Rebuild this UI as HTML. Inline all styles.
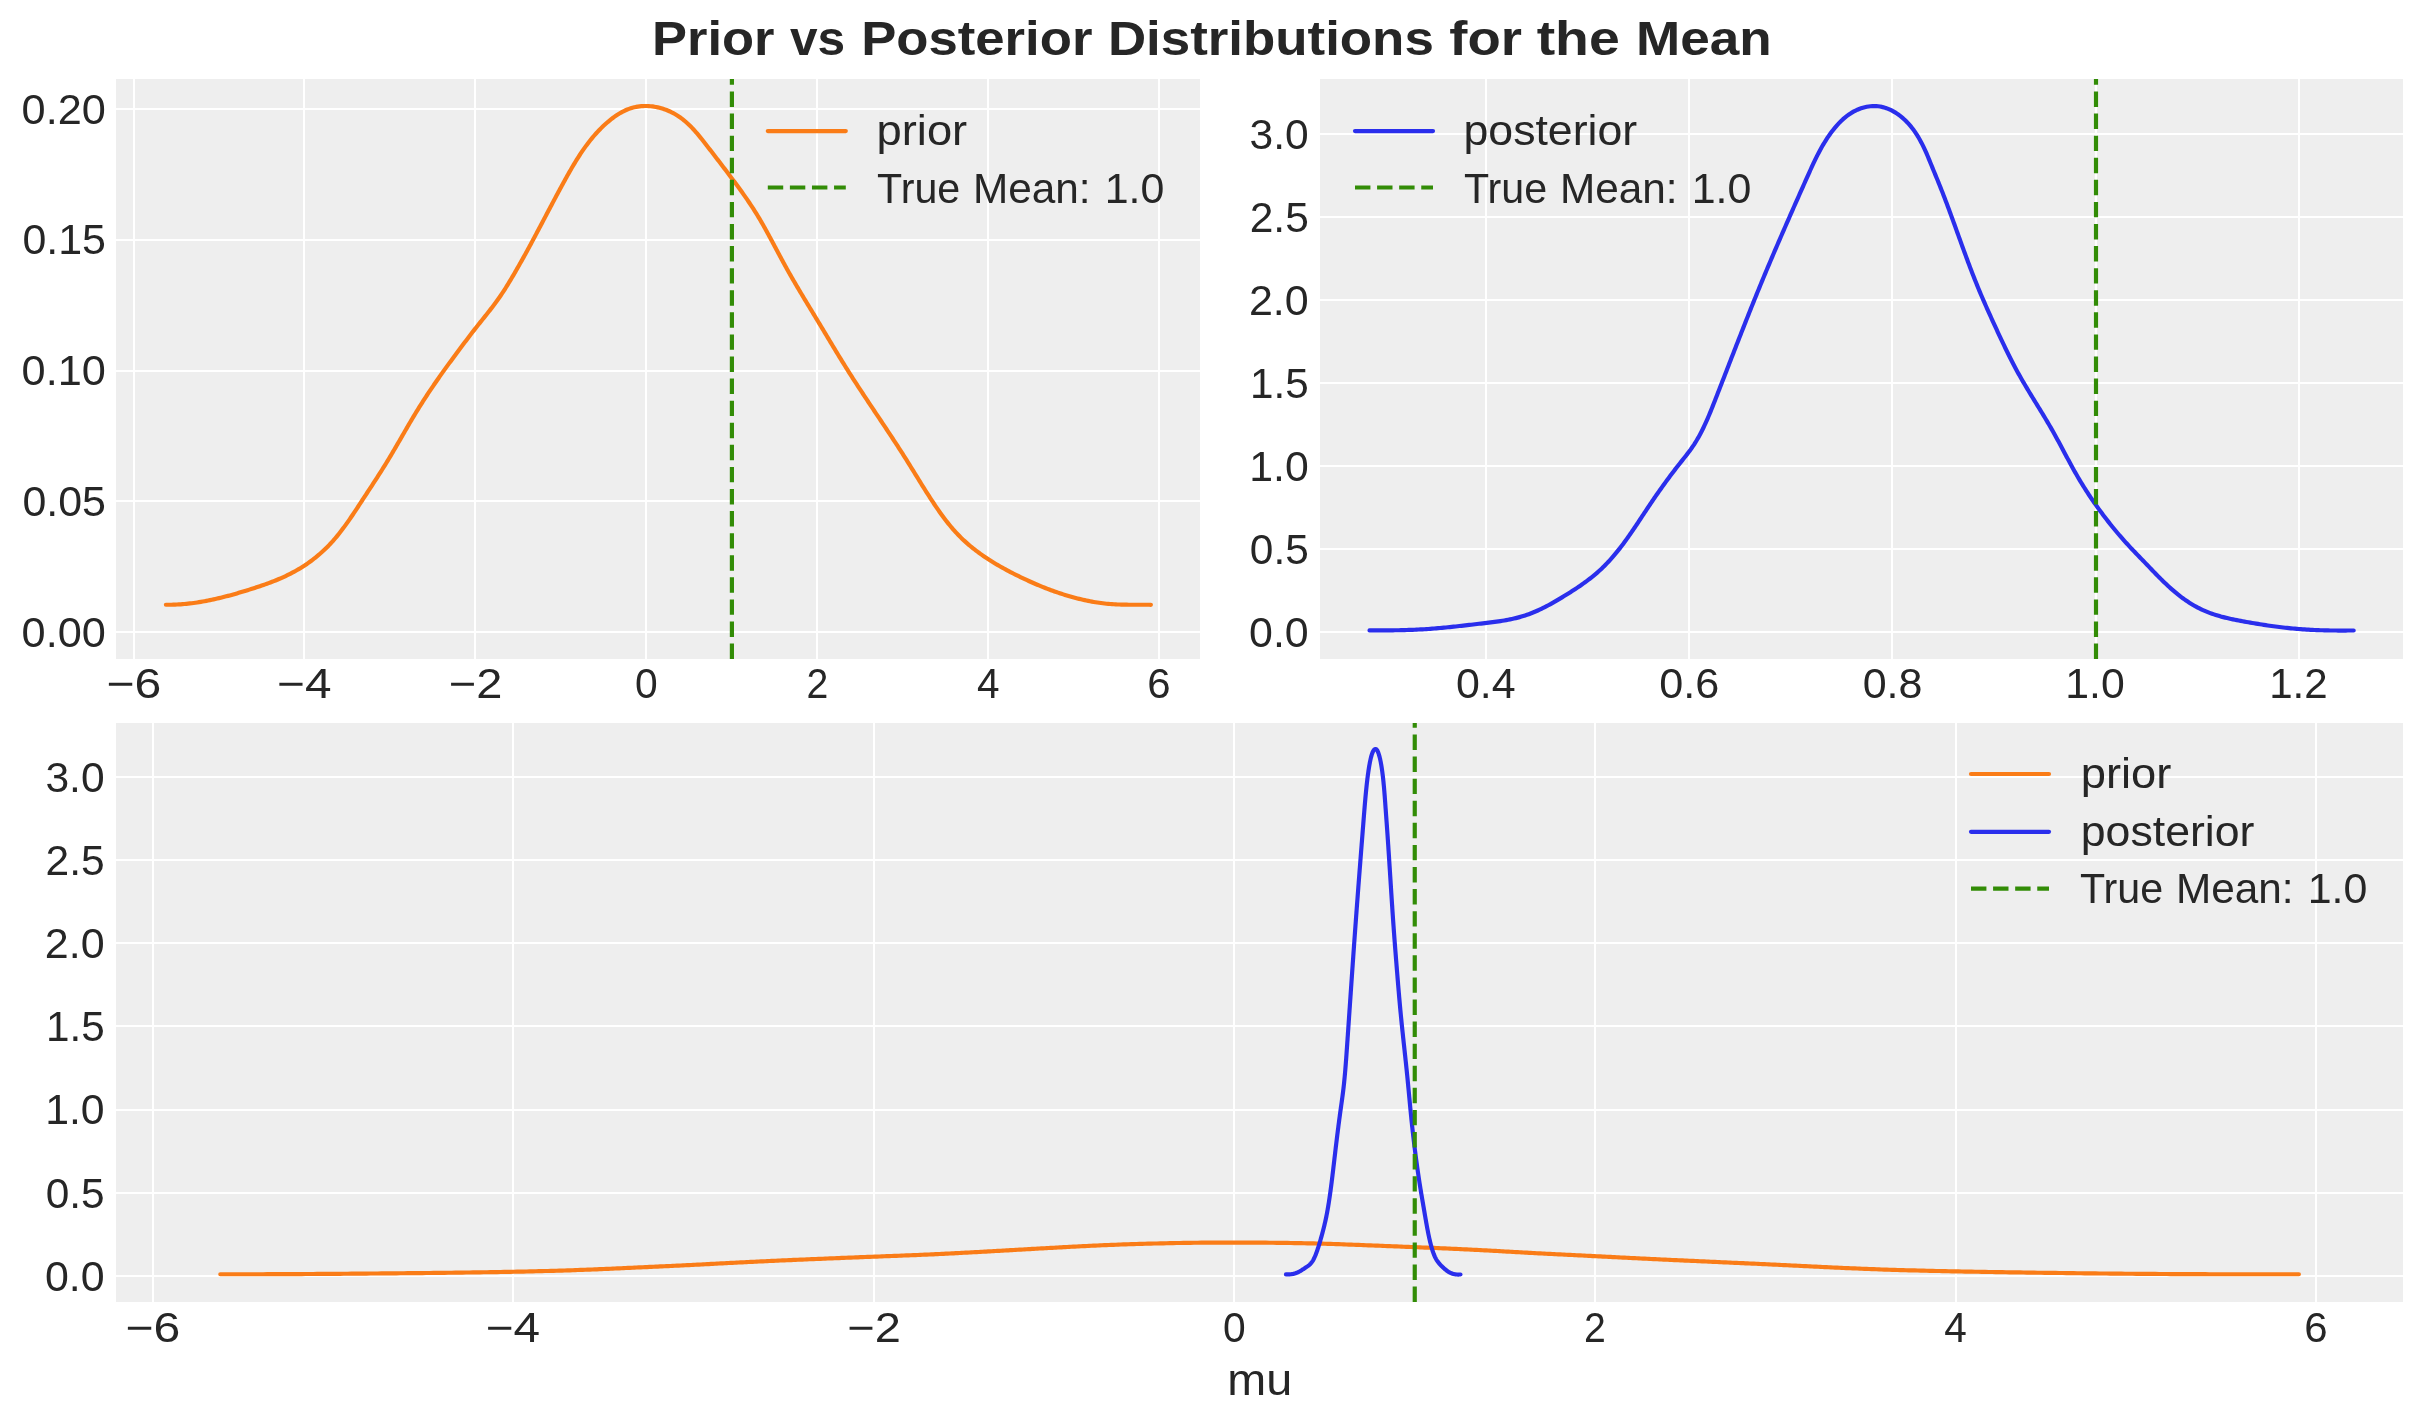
<!DOCTYPE html>
<html><head><meta charset="utf-8"><style>
html,body{margin:0;padding:0;background:#fff;}
body{width:2423px;height:1423px;overflow:hidden;}
svg{display:block;will-change:transform;}
text{font-family:"Liberation Sans",sans-serif;fill:#262626;}
</style></head><body>
<svg width="2423" height="1423" viewBox="0 0 2423 1423">
<rect x="0" y="0" width="2423" height="1423" fill="#ffffff"/>
<rect x="116" y="79" width="1084" height="580" fill="#eeeeee"/>
<rect x="1320" y="79" width="1083" height="580" fill="#eeeeee"/>
<rect x="116" y="723" width="2287" height="579" fill="#eeeeee"/>
<rect x="133" y="79" width="2" height="580" fill="#fff"/>
<rect x="303" y="79" width="2" height="580" fill="#fff"/>
<rect x="474" y="79" width="2" height="580" fill="#fff"/>
<rect x="645" y="79" width="2" height="580" fill="#fff"/>
<rect x="816" y="79" width="2" height="580" fill="#fff"/>
<rect x="987" y="79" width="2" height="580" fill="#fff"/>
<rect x="1158" y="79" width="2" height="580" fill="#fff"/>
<rect x="116" y="108" width="1084" height="2" fill="#fff"/>
<rect x="116" y="239" width="1084" height="2" fill="#fff"/>
<rect x="116" y="370" width="1084" height="2" fill="#fff"/>
<rect x="116" y="500" width="1084" height="2" fill="#fff"/>
<rect x="116" y="631" width="1084" height="2" fill="#fff"/>
<rect x="1485" y="79" width="2" height="580" fill="#fff"/>
<rect x="1688" y="79" width="2" height="580" fill="#fff"/>
<rect x="1891" y="79" width="2" height="580" fill="#fff"/>
<rect x="2095" y="79" width="2" height="580" fill="#fff"/>
<rect x="2298" y="79" width="2" height="580" fill="#fff"/>
<rect x="1320" y="133" width="1083" height="2" fill="#fff"/>
<rect x="1320" y="216" width="1083" height="2" fill="#fff"/>
<rect x="1320" y="299" width="1083" height="2" fill="#fff"/>
<rect x="1320" y="382" width="1083" height="2" fill="#fff"/>
<rect x="1320" y="465" width="1083" height="2" fill="#fff"/>
<rect x="1320" y="548" width="1083" height="2" fill="#fff"/>
<rect x="1320" y="631" width="1083" height="2" fill="#fff"/>
<rect x="152" y="723" width="2" height="579" fill="#fff"/>
<rect x="512" y="723" width="2" height="579" fill="#fff"/>
<rect x="873" y="723" width="2" height="579" fill="#fff"/>
<rect x="1233" y="723" width="2" height="579" fill="#fff"/>
<rect x="1594" y="723" width="2" height="579" fill="#fff"/>
<rect x="1955" y="723" width="2" height="579" fill="#fff"/>
<rect x="2315" y="723" width="2" height="579" fill="#fff"/>
<rect x="116" y="776" width="2287" height="2" fill="#fff"/>
<rect x="116" y="859" width="2287" height="2" fill="#fff"/>
<rect x="116" y="942" width="2287" height="2" fill="#fff"/>
<rect x="116" y="1025" width="2287" height="2" fill="#fff"/>
<rect x="116" y="1109" width="2287" height="2" fill="#fff"/>
<rect x="116" y="1192" width="2287" height="2" fill="#fff"/>
<rect x="116" y="1275" width="2287" height="2" fill="#fff"/>
<polyline points="165.88,604.74 167.75,604.75 169.61,604.75 171.46,604.72 173.32,604.67 175.17,604.61 177.02,604.52 178.87,604.42 180.72,604.30 182.56,604.16 184.40,604.00 186.24,603.83 188.08,603.63 189.91,603.43 191.75,603.20 193.58,602.96 195.41,602.71 197.23,602.44 199.06,602.15 200.88,601.85 202.70,601.54 204.52,601.21 206.34,600.87 208.15,600.52 209.97,600.15 211.78,599.77 213.59,599.38 215.39,598.98 217.20,598.57 219.00,598.15 220.80,597.71 222.60,597.27 224.40,596.81 226.19,596.35 227.99,595.88 229.78,595.40 231.57,594.91 233.35,594.41 235.14,593.90 236.92,593.39 238.70,592.87 240.48,592.34 242.26,591.81 244.04,591.27 245.81,590.73 247.59,590.18 249.36,589.62 251.13,589.06 252.90,588.50 254.66,587.93 256.42,587.35 258.18,586.77 259.94,586.18 261.69,585.58 263.44,584.98 265.19,584.36 266.93,583.74 268.66,583.10 270.39,582.45 272.12,581.79 273.84,581.12 275.55,580.44 277.26,579.74 278.96,579.02 280.65,578.30 282.34,577.55 284.01,576.79 285.68,576.02 287.35,575.22 289.00,574.41 290.64,573.58 292.28,572.72 293.91,571.85 295.52,570.96 297.13,570.05 298.72,569.12 300.31,568.16 301.88,567.19 303.44,566.20 304.99,565.18 306.53,564.15 308.05,563.10 309.56,562.03 311.06,560.94 312.54,559.83 314.01,558.70 315.46,557.55 316.90,556.39 318.33,555.20 319.73,554.00 321.12,552.78 322.50,551.54 323.86,550.29 325.19,549.02 326.52,547.73 327.82,546.42 329.11,545.10 330.37,543.76 331.62,542.40 332.86,541.03 334.07,539.65 335.28,538.25 336.46,536.84 337.64,535.41 338.80,533.98 339.94,532.53 341.08,531.07 342.20,529.60 343.31,528.12 344.41,526.63 345.50,525.14 346.58,523.63 347.66,522.12 348.72,520.60 349.78,519.08 350.83,517.54 351.87,516.01 352.91,514.47 353.95,512.93 354.98,511.38 356.00,509.83 357.02,508.28 358.04,506.73 359.06,505.17 360.08,503.62 361.09,502.06 362.11,500.51 363.13,498.96 364.14,497.41 365.16,495.86 366.17,494.31 367.19,492.77 368.20,491.22 369.22,489.67 370.23,488.12 371.24,486.58 372.25,485.03 373.26,483.48 374.26,481.93 375.27,480.38 376.27,478.83 377.27,477.28 378.27,475.73 379.26,474.17 380.25,472.62 381.24,471.06 382.23,469.50 383.21,467.93 384.19,466.37 385.16,464.80 386.13,463.23 387.10,461.65 388.06,460.08 389.01,458.50 389.97,456.91 390.92,455.33 391.86,453.74 392.80,452.14 393.74,450.55 394.68,448.95 395.61,447.35 396.54,445.75 397.47,444.15 398.40,442.55 399.33,440.95 400.26,439.34 401.18,437.74 402.11,436.13 403.04,434.53 403.96,432.93 404.89,431.32 405.82,429.72 406.75,428.12 407.68,426.51 408.62,424.91 409.55,423.32 410.49,421.72 411.43,420.12 412.38,418.53 413.33,416.94 414.28,415.35 415.24,413.77 416.20,412.19 417.16,410.61 418.14,409.04 419.11,407.46 420.09,405.90 421.08,404.33 422.07,402.77 423.07,401.21 424.07,399.66 425.07,398.11 426.08,396.56 427.09,395.01 428.11,393.47 429.14,391.93 430.16,390.39 431.19,388.86 432.23,387.33 433.27,385.80 434.31,384.27 435.36,382.75 436.41,381.22 437.46,379.71 438.52,378.19 439.58,376.67 440.65,375.16 441.72,373.65 442.79,372.15 443.86,370.64 444.94,369.14 446.03,367.64 447.11,366.14 448.20,364.64 449.29,363.14 450.38,361.65 451.48,360.16 452.57,358.67 453.67,357.18 454.78,355.69 455.88,354.20 456.98,352.72 458.09,351.23 459.20,349.75 460.30,348.27 461.41,346.79 462.52,345.31 463.63,343.83 464.74,342.36 465.85,340.88 466.97,339.41 468.08,337.93 469.20,336.46 470.32,335.00 471.45,333.53 472.58,332.07 473.71,330.61 474.85,329.16 475.99,327.71 477.14,326.26 478.29,324.81 479.44,323.37 480.60,321.93 481.75,320.48 482.90,319.04 484.06,317.59 485.21,316.15 486.36,314.70 487.50,313.25 488.64,311.80 489.78,310.35 490.91,308.89 492.04,307.42 493.15,305.95 494.26,304.48 495.37,303.00 496.46,301.51 497.54,300.02 498.62,298.51 499.68,297.00 500.73,295.48 501.76,293.95 502.79,292.42 503.80,290.87 504.80,289.31 505.79,287.75 506.77,286.18 507.74,284.60 508.70,283.02 509.66,281.44 510.61,279.85 511.56,278.26 512.50,276.67 513.44,275.07 514.37,273.47 515.30,271.87 516.22,270.27 517.15,268.67 518.07,267.06 518.98,265.45 519.89,263.84 520.80,262.23 521.71,260.62 522.61,259.00 523.51,257.38 524.40,255.77 525.30,254.15 526.19,252.52 527.08,250.90 527.96,249.28 528.85,247.65 529.73,246.03 530.61,244.40 531.49,242.77 532.36,241.14 533.24,239.51 534.11,237.88 534.98,236.24 535.85,234.61 536.72,232.98 537.59,231.34 538.45,229.71 539.32,228.07 540.19,226.44 541.05,224.80 541.91,223.16 542.78,221.53 543.64,219.89 544.50,218.25 545.37,216.62 546.23,214.98 547.09,213.34 547.96,211.70 548.82,210.07 549.69,208.43 550.55,206.79 551.42,205.16 552.28,203.52 553.15,201.89 554.02,200.25 554.89,198.62 555.76,196.99 556.64,195.36 557.51,193.72 558.39,192.09 559.26,190.46 560.14,188.84 561.03,187.21 561.91,185.58 562.80,183.96 563.69,182.33 564.58,180.71 565.47,179.09 566.37,177.47 567.27,175.85 568.17,174.24 569.08,172.63 570.00,171.02 570.92,169.42 571.85,167.82 572.78,166.22 573.72,164.64 574.68,163.05 575.63,161.47 576.60,159.90 577.58,158.34 578.57,156.78 579.57,155.24 580.58,153.70 581.61,152.16 582.64,150.64 583.69,149.13 584.76,147.63 585.83,146.14 586.93,144.65 588.03,143.18 589.16,141.73 590.30,140.28 591.46,138.85 592.63,137.43 593.83,136.02 595.04,134.63 596.27,133.25 597.53,131.89 598.80,130.54 600.09,129.21 601.41,127.89 602.75,126.59 604.11,125.31 605.49,124.04 606.90,122.79 608.33,121.56 609.79,120.36 611.27,119.17 612.78,118.02 614.30,116.90 615.85,115.81 617.42,114.76 619.02,113.76 620.63,112.81 622.27,111.90 623.92,111.05 625.60,110.26 627.29,109.53 629.00,108.87 630.73,108.28 632.48,107.75 634.25,107.30 636.02,106.92 637.81,106.60 639.61,106.36 641.42,106.18 643.23,106.06 645.05,106.01 646.87,106.02 648.69,106.09 650.51,106.23 652.32,106.42 654.14,106.68 655.94,106.99 657.74,107.36 659.53,107.79 661.31,108.27 663.07,108.81 664.82,109.40 666.55,110.05 668.26,110.74 669.95,111.49 671.61,112.29 673.26,113.13 674.87,114.02 676.46,114.96 678.02,115.95 679.55,116.98 681.05,118.05 682.51,119.16 683.95,120.31 685.37,121.50 686.75,122.72 688.12,123.97 689.46,125.26 690.78,126.57 692.08,127.91 693.36,129.27 694.62,130.65 695.86,132.05 697.09,133.47 698.30,134.91 699.51,136.35 700.70,137.81 701.87,139.28 703.04,140.75 704.21,142.23 705.36,143.71 706.51,145.20 707.66,146.67 708.80,148.15 709.93,149.62 711.07,151.09 712.20,152.56 713.33,154.03 714.46,155.49 715.58,156.95 716.71,158.41 717.83,159.87 718.94,161.33 720.06,162.79 721.17,164.25 722.29,165.71 723.40,167.16 724.51,168.62 725.62,170.08 726.72,171.55 727.83,173.01 728.93,174.48 730.04,175.95 731.14,177.42 732.25,178.89 733.35,180.37 734.45,181.85 735.55,183.34 736.65,184.83 737.74,186.32 738.84,187.82 739.93,189.32 741.01,190.82 742.09,192.33 743.17,193.84 744.24,195.36 745.31,196.88 746.37,198.40 747.43,199.93 748.47,201.47 749.51,203.01 750.55,204.55 751.57,206.10 752.59,207.65 753.59,209.21 754.59,210.78 755.58,212.34 756.56,213.92 757.52,215.50 758.48,217.08 759.43,218.67 760.37,220.26 761.31,221.86 762.23,223.46 763.15,225.07 764.06,226.68 764.97,228.29 765.87,229.90 766.76,231.52 767.65,233.14 768.54,234.76 769.42,236.38 770.30,238.01 771.18,239.64 772.05,241.27 772.92,242.90 773.79,244.53 774.66,246.16 775.52,247.79 776.39,249.42 777.26,251.05 778.12,252.68 778.99,254.32 779.86,255.95 780.74,257.58 781.61,259.21 782.49,260.83 783.37,262.46 784.25,264.08 785.14,265.70 786.03,267.32 786.93,268.94 787.83,270.55 788.74,272.17 789.65,273.78 790.57,275.38 791.49,276.99 792.41,278.59 793.34,280.20 794.27,281.80 795.20,283.39 796.14,284.99 797.08,286.59 798.02,288.18 798.96,289.77 799.91,291.37 800.86,292.96 801.81,294.54 802.76,296.13 803.72,297.72 804.67,299.31 805.63,300.89 806.59,302.48 807.55,304.06 808.51,305.65 809.47,307.23 810.43,308.81 811.39,310.40 812.35,311.98 813.31,313.56 814.26,315.15 815.22,316.73 816.18,318.31 817.14,319.90 818.09,321.48 819.05,323.07 820.00,324.65 820.95,326.24 821.90,327.82 822.86,329.41 823.81,330.99 824.76,332.58 825.71,334.16 826.66,335.75 827.61,337.33 828.56,338.92 829.51,340.50 830.46,342.09 831.42,343.67 832.37,345.25 833.32,346.83 834.28,348.42 835.23,350.00 836.19,351.58 837.15,353.16 838.11,354.73 839.08,356.31 840.04,357.89 841.01,359.46 841.98,361.04 842.95,362.61 843.92,364.18 844.90,365.75 845.88,367.32 846.86,368.89 847.84,370.45 848.83,372.02 849.82,373.58 850.81,375.14 851.81,376.70 852.81,378.26 853.81,379.81 854.81,381.37 855.82,382.92 856.83,384.48 857.84,386.03 858.85,387.58 859.87,389.13 860.89,390.68 861.90,392.23 862.92,393.77 863.95,395.32 864.97,396.86 865.99,398.41 867.02,399.95 868.04,401.50 869.07,403.04 870.10,404.58 871.13,406.12 872.15,407.67 873.18,409.21 874.21,410.75 875.24,412.29 876.27,413.83 877.30,415.37 878.33,416.91 879.36,418.45 880.39,419.99 881.42,421.53 882.45,423.07 883.48,424.61 884.50,426.15 885.53,427.69 886.56,429.24 887.58,430.78 888.60,432.32 889.62,433.86 890.64,435.41 891.66,436.95 892.68,438.50 893.69,440.04 894.71,441.59 895.72,443.14 896.72,444.68 897.73,446.23 898.74,447.78 899.74,449.33 900.74,450.89 901.73,452.44 902.73,453.99 903.72,455.55 904.70,457.11 905.69,458.67 906.67,460.23 907.65,461.79 908.62,463.35 909.59,464.92 910.56,466.48 911.53,468.05 912.50,469.61 913.47,471.18 914.43,472.75 915.40,474.32 916.36,475.88 917.33,477.45 918.30,479.02 919.27,480.59 920.24,482.16 921.21,483.73 922.18,485.29 923.16,486.86 924.14,488.43 925.12,489.99 926.11,491.56 927.10,493.12 928.10,494.68 929.10,496.24 930.10,497.80 931.11,499.36 932.13,500.91 933.15,502.47 934.18,504.02 935.22,505.56 936.27,507.11 937.32,508.65 938.38,510.18 939.45,511.71 940.53,513.23 941.62,514.74 942.72,516.24 943.83,517.74 944.95,519.22 946.08,520.70 947.23,522.16 948.38,523.62 949.55,525.06 950.73,526.48 951.93,527.90 953.14,529.30 954.36,530.68 955.60,532.05 956.86,533.40 958.13,534.74 959.41,536.06 960.71,537.36 962.03,538.64 963.36,539.90 964.71,541.15 966.07,542.39 967.44,543.60 968.83,544.80 970.23,545.99 971.65,547.15 973.08,548.31 974.52,549.45 975.97,550.57 977.44,551.68 978.92,552.77 980.40,553.86 981.90,554.92 983.41,555.98 984.93,557.02 986.47,558.04 988.01,559.06 989.56,560.06 991.11,561.05 992.68,562.03 994.26,562.99 995.84,563.95 997.44,564.89 999.04,565.82 1000.64,566.74 1002.26,567.65 1003.88,568.55 1005.51,569.45 1007.14,570.33 1008.78,571.20 1010.42,572.06 1012.07,572.91 1013.73,573.76 1015.39,574.59 1017.05,575.42 1018.72,576.24 1020.39,577.05 1022.06,577.86 1023.74,578.65 1025.42,579.44 1027.10,580.22 1028.79,580.99 1030.48,581.76 1032.17,582.51 1033.87,583.26 1035.57,583.99 1037.27,584.72 1038.98,585.44 1040.69,586.15 1042.40,586.84 1044.12,587.53 1045.84,588.21 1047.57,588.88 1049.30,589.53 1051.03,590.18 1052.76,590.82 1054.50,591.44 1056.25,592.05 1057.99,592.65 1059.74,593.24 1061.50,593.82 1063.25,594.38 1065.01,594.94 1066.78,595.48 1068.55,596.01 1070.32,596.52 1072.10,597.02 1073.88,597.51 1075.66,597.98 1077.45,598.45 1079.24,598.89 1081.04,599.33 1082.83,599.75 1084.64,600.15 1086.44,600.54 1088.25,600.91 1090.07,601.27 1091.88,601.61 1093.70,601.94 1095.53,602.24 1097.35,602.53 1099.18,602.80 1101.01,603.06 1102.84,603.29 1104.68,603.51 1106.52,603.71 1108.36,603.88 1110.20,604.04 1112.04,604.18 1113.89,604.29 1115.74,604.39 1117.58,604.48 1119.43,604.54 1121.29,604.60 1123.14,604.64 1124.99,604.68 1126.84,604.70 1128.70,604.71 1130.55,604.72 1132.40,604.73 1134.26,604.73 1136.11,604.73 1137.96,604.72 1139.81,604.72 1141.66,604.72 1143.51,604.73 1145.36,604.74 1147.21,604.75 1149.06,604.77 1150.90,604.81" fill="none" stroke="#fa7c17" stroke-width="4.17" stroke-linecap="round" stroke-linejoin="round"/>
<polyline points="1369.50,630.40 1371.46,630.41 1373.42,630.41 1375.38,630.41 1377.34,630.41 1379.30,630.41 1381.26,630.41 1383.22,630.40 1385.18,630.39 1387.14,630.38 1389.10,630.36 1391.06,630.34 1393.02,630.31 1394.98,630.28 1396.94,630.25 1398.91,630.21 1400.87,630.17 1402.83,630.12 1404.79,630.07 1406.75,630.01 1408.71,629.95 1410.67,629.88 1412.63,629.80 1414.58,629.72 1416.54,629.64 1418.50,629.54 1420.46,629.44 1422.41,629.33 1424.37,629.21 1426.32,629.09 1428.28,628.96 1430.23,628.82 1432.18,628.68 1434.13,628.52 1436.08,628.36 1438.03,628.20 1439.98,628.03 1441.93,627.85 1443.88,627.67 1445.83,627.48 1447.78,627.28 1449.73,627.09 1451.68,626.89 1453.62,626.68 1455.57,626.47 1457.52,626.26 1459.47,626.04 1461.42,625.83 1463.37,625.61 1465.32,625.38 1467.27,625.16 1469.22,624.94 1471.17,624.71 1473.12,624.48 1475.07,624.26 1477.02,624.03 1478.98,623.80 1480.93,623.57 1482.89,623.35 1484.84,623.12 1486.80,622.89 1488.75,622.65 1490.71,622.41 1492.66,622.16 1494.61,621.91 1496.56,621.64 1498.50,621.36 1500.44,621.07 1502.38,620.76 1504.31,620.44 1506.23,620.10 1508.16,619.75 1510.07,619.37 1511.98,618.97 1513.88,618.55 1515.78,618.10 1517.66,617.63 1519.54,617.13 1521.41,616.60 1523.27,616.04 1525.12,615.45 1526.96,614.83 1528.79,614.18 1530.61,613.49 1532.43,612.78 1534.23,612.04 1536.02,611.27 1537.81,610.48 1539.58,609.66 1541.35,608.82 1543.11,607.96 1544.87,607.07 1546.61,606.17 1548.35,605.25 1550.08,604.31 1551.81,603.36 1553.53,602.39 1555.24,601.41 1556.95,600.41 1558.65,599.41 1560.35,598.40 1562.04,597.37 1563.73,596.34 1565.41,595.31 1567.09,594.26 1568.76,593.22 1570.43,592.16 1572.09,591.10 1573.74,590.03 1575.39,588.95 1577.03,587.87 1578.66,586.77 1580.28,585.66 1581.89,584.54 1583.48,583.41 1585.07,582.26 1586.65,581.11 1588.21,579.94 1589.76,578.75 1591.29,577.55 1592.81,576.33 1594.32,575.10 1595.81,573.85 1597.28,572.58 1598.73,571.29 1600.17,569.99 1601.59,568.66 1602.99,567.31 1604.37,565.95 1605.74,564.57 1607.09,563.17 1608.42,561.75 1609.74,560.32 1611.04,558.87 1612.33,557.41 1613.60,555.93 1614.87,554.43 1616.11,552.93 1617.35,551.41 1618.57,549.88 1619.78,548.34 1620.99,546.78 1622.18,545.22 1623.36,543.65 1624.53,542.06 1625.69,540.47 1626.84,538.87 1627.99,537.27 1629.13,535.65 1630.26,534.03 1631.38,532.41 1632.50,530.78 1633.61,529.14 1634.72,527.50 1635.82,525.86 1636.92,524.22 1638.02,522.57 1639.11,520.92 1640.20,519.27 1641.29,517.62 1642.38,515.97 1643.47,514.33 1644.55,512.68 1645.64,511.04 1646.73,509.39 1647.82,507.76 1648.91,506.12 1650.00,504.49 1651.09,502.87 1652.19,501.25 1653.29,499.63 1654.39,498.02 1655.50,496.41 1656.61,494.81 1657.72,493.21 1658.84,491.62 1659.96,490.03 1661.08,488.44 1662.21,486.86 1663.35,485.28 1664.49,483.70 1665.63,482.13 1666.78,480.56 1667.93,478.99 1669.09,477.42 1670.26,475.86 1671.43,474.30 1672.60,472.74 1673.79,471.19 1674.98,469.63 1676.17,468.08 1677.38,466.53 1678.58,464.98 1679.80,463.44 1681.03,461.89 1682.26,460.35 1683.49,458.80 1684.72,457.26 1685.95,455.70 1687.17,454.14 1688.37,452.58 1689.56,451.00 1690.73,449.41 1691.86,447.80 1692.97,446.18 1694.06,444.55 1695.11,442.90 1696.14,441.23 1697.14,439.55 1698.12,437.86 1699.08,436.16 1700.01,434.45 1700.92,432.72 1701.82,430.98 1702.69,429.24 1703.55,427.48 1704.39,425.72 1705.21,423.94 1706.02,422.16 1706.82,420.37 1707.60,418.58 1708.37,416.78 1709.13,414.97 1709.89,413.16 1710.63,411.35 1711.37,409.53 1712.10,407.71 1712.82,405.88 1713.55,404.06 1714.26,402.23 1714.98,400.40 1715.70,398.58 1716.41,396.75 1717.12,394.92 1717.84,393.09 1718.55,391.26 1719.26,389.44 1719.98,387.61 1720.69,385.78 1721.40,383.95 1722.11,382.12 1722.82,380.30 1723.53,378.47 1724.24,376.64 1724.95,374.81 1725.66,372.99 1726.37,371.16 1727.08,369.33 1727.79,367.51 1728.49,365.68 1729.20,363.85 1729.91,362.03 1730.62,360.20 1731.33,358.37 1732.04,356.55 1732.75,354.72 1733.46,352.89 1734.17,351.07 1734.88,349.24 1735.59,347.42 1736.30,345.59 1737.01,343.77 1737.73,341.94 1738.44,340.12 1739.15,338.30 1739.86,336.47 1740.58,334.65 1741.29,332.82 1742.01,331.00 1742.72,329.18 1743.44,327.36 1744.16,325.53 1744.88,323.71 1745.60,321.89 1746.32,320.07 1747.04,318.25 1747.76,316.43 1748.48,314.61 1749.21,312.79 1749.93,310.97 1750.66,309.15 1751.39,307.33 1752.12,305.51 1752.84,303.70 1753.58,301.88 1754.31,300.06 1755.04,298.24 1755.78,296.43 1756.51,294.61 1757.25,292.80 1757.99,290.98 1758.73,289.17 1759.48,287.35 1760.22,285.54 1760.97,283.73 1761.71,281.91 1762.46,280.10 1763.21,278.29 1763.97,276.48 1764.72,274.67 1765.47,272.86 1766.23,271.05 1766.99,269.24 1767.75,267.43 1768.51,265.62 1769.27,263.82 1770.04,262.01 1770.80,260.20 1771.57,258.40 1772.34,256.59 1773.11,254.79 1773.88,252.98 1774.65,251.18 1775.42,249.37 1776.19,247.57 1776.97,245.77 1777.75,243.97 1778.52,242.17 1779.30,240.36 1780.08,238.56 1780.86,236.76 1781.64,234.96 1782.42,233.17 1783.21,231.37 1783.99,229.57 1784.77,227.77 1785.56,225.97 1786.35,224.18 1787.13,222.38 1787.92,220.59 1788.71,218.79 1789.50,217.00 1790.29,215.20 1791.08,213.41 1791.87,211.62 1792.66,209.82 1793.45,208.03 1794.24,206.24 1795.04,204.45 1795.83,202.66 1796.62,200.87 1797.42,199.08 1798.21,197.29 1799.01,195.50 1799.80,193.72 1800.60,191.93 1801.39,190.14 1802.19,188.36 1802.99,186.57 1803.78,184.78 1804.58,183.00 1805.37,181.22 1806.17,179.43 1806.97,177.65 1807.76,175.87 1808.56,174.08 1809.36,172.30 1810.16,170.52 1810.97,168.75 1811.78,166.97 1812.60,165.20 1813.42,163.44 1814.26,161.67 1815.10,159.92 1815.96,158.16 1816.83,156.42 1817.71,154.68 1818.60,152.94 1819.51,151.22 1820.44,149.50 1821.39,147.79 1822.36,146.09 1823.34,144.39 1824.35,142.71 1825.39,141.04 1826.44,139.38 1827.52,137.72 1828.63,136.09 1829.76,134.46 1830.93,132.85 1832.12,131.25 1833.35,129.67 1834.60,128.11 1835.89,126.58 1837.20,125.08 1838.55,123.61 1839.93,122.17 1841.35,120.78 1842.79,119.42 1844.27,118.11 1845.79,116.86 1847.34,115.65 1848.93,114.50 1850.55,113.41 1852.21,112.38 1853.90,111.42 1855.64,110.53 1857.41,109.71 1859.21,108.97 1861.04,108.30 1862.89,107.72 1864.77,107.22 1866.66,106.80 1868.57,106.48 1870.49,106.24 1872.41,106.10 1874.33,106.06 1876.26,106.11 1878.17,106.27 1880.08,106.53 1881.97,106.90 1883.85,107.37 1885.71,107.94 1887.54,108.61 1889.35,109.36 1891.13,110.20 1892.88,111.11 1894.59,112.09 1896.26,113.13 1897.90,114.24 1899.49,115.40 1901.05,116.62 1902.56,117.89 1904.04,119.21 1905.47,120.57 1906.87,121.97 1908.23,123.42 1909.55,124.90 1910.83,126.42 1912.07,127.97 1913.27,129.55 1914.43,131.15 1915.56,132.78 1916.64,134.43 1917.69,136.09 1918.70,137.77 1919.68,139.47 1920.62,141.18 1921.54,142.90 1922.42,144.64 1923.29,146.38 1924.12,148.14 1924.94,149.91 1925.74,151.68 1926.53,153.46 1927.30,155.25 1928.06,157.05 1928.81,158.85 1929.55,160.65 1930.29,162.46 1931.03,164.27 1931.76,166.08 1932.50,167.89 1933.25,169.70 1933.99,171.51 1934.74,173.32 1935.48,175.14 1936.23,176.95 1936.98,178.76 1937.72,180.58 1938.46,182.39 1939.20,184.21 1939.93,186.03 1940.66,187.85 1941.38,189.68 1942.10,191.50 1942.82,193.33 1943.53,195.16 1944.23,196.98 1944.93,198.82 1945.63,200.65 1946.33,202.48 1947.02,204.32 1947.71,206.15 1948.39,207.99 1949.07,209.83 1949.75,211.67 1950.43,213.51 1951.11,215.35 1951.78,217.19 1952.45,219.03 1953.12,220.88 1953.79,222.72 1954.46,224.56 1955.13,226.41 1955.79,228.25 1956.46,230.10 1957.12,231.94 1957.78,233.79 1958.45,235.63 1959.11,237.48 1959.78,239.32 1960.44,241.16 1961.11,243.01 1961.78,244.85 1962.44,246.69 1963.11,248.54 1963.78,250.38 1964.46,252.22 1965.13,254.06 1965.81,255.90 1966.48,257.74 1967.16,259.57 1967.85,261.41 1968.53,263.24 1969.22,265.08 1969.92,266.91 1970.61,268.74 1971.31,270.57 1972.01,272.40 1972.72,274.23 1973.43,276.05 1974.15,277.87 1974.87,279.69 1975.59,281.51 1976.32,283.33 1977.06,285.15 1977.80,286.96 1978.54,288.77 1979.29,290.58 1980.05,292.38 1980.81,294.19 1981.58,295.99 1982.35,297.79 1983.13,299.59 1983.91,301.39 1984.69,303.18 1985.48,304.98 1986.27,306.77 1987.06,308.56 1987.86,310.35 1988.66,312.14 1989.47,313.92 1990.28,315.71 1991.09,317.50 1991.90,319.28 1992.71,321.07 1993.53,322.85 1994.35,324.63 1995.17,326.41 1995.99,328.19 1996.81,329.98 1997.63,331.76 1998.46,333.54 1999.29,335.32 2000.12,337.09 2000.95,338.87 2001.79,340.65 2002.62,342.42 2003.47,344.19 2004.31,345.96 2005.16,347.73 2006.02,349.50 2006.88,351.26 2007.74,353.02 2008.61,354.78 2009.49,356.53 2010.37,358.28 2011.25,360.03 2012.15,361.78 2013.05,363.52 2013.96,365.25 2014.87,366.98 2015.79,368.71 2016.73,370.44 2017.66,372.15 2018.61,373.87 2019.57,375.58 2020.53,377.28 2021.50,378.98 2022.48,380.68 2023.46,382.37 2024.45,384.06 2025.45,385.75 2026.45,387.43 2027.46,389.11 2028.47,390.79 2029.48,392.47 2030.50,394.14 2031.52,395.81 2032.54,397.49 2033.56,399.16 2034.59,400.83 2035.61,402.50 2036.64,404.17 2037.66,405.83 2038.69,407.50 2039.71,409.17 2040.74,410.85 2041.76,412.52 2042.77,414.19 2043.79,415.87 2044.80,417.54 2045.81,419.22 2046.82,420.90 2047.81,422.59 2048.81,424.28 2049.80,425.97 2050.78,427.66 2051.76,429.36 2052.72,431.06 2053.68,432.77 2054.64,434.48 2055.59,436.19 2056.53,437.91 2057.47,439.63 2058.40,441.35 2059.33,443.07 2060.26,444.80 2061.18,446.53 2062.10,448.26 2063.02,449.99 2063.94,451.71 2064.86,453.44 2065.79,455.17 2066.71,456.90 2067.63,458.63 2068.56,460.36 2069.49,462.08 2070.42,463.80 2071.36,465.52 2072.30,467.24 2073.25,468.95 2074.21,470.66 2075.17,472.37 2076.14,474.07 2077.11,475.77 2078.10,477.46 2079.10,479.15 2080.10,480.83 2081.11,482.51 2082.14,484.18 2083.17,485.85 2084.21,487.51 2085.26,489.16 2086.31,490.81 2087.38,492.46 2088.45,494.10 2089.54,495.73 2090.63,497.36 2091.72,498.98 2092.83,500.60 2093.94,502.21 2095.07,503.81 2096.20,505.42 2097.33,507.01 2098.48,508.60 2099.63,510.18 2100.79,511.76 2101.95,513.34 2103.13,514.90 2104.31,516.46 2105.49,518.02 2106.69,519.57 2107.89,521.12 2109.10,522.65 2110.31,524.19 2111.53,525.71 2112.75,527.23 2113.99,528.75 2115.23,530.26 2116.48,531.76 2117.73,533.25 2119.00,534.74 2120.27,536.22 2121.55,537.70 2122.84,539.16 2124.13,540.62 2125.44,542.07 2126.75,543.52 2128.07,544.95 2129.40,546.38 2130.73,547.81 2132.07,549.23 2133.42,550.65 2134.77,552.06 2136.12,553.47 2137.48,554.88 2138.84,556.29 2140.20,557.70 2141.57,559.10 2142.93,560.51 2144.29,561.93 2145.66,563.34 2147.02,564.76 2148.38,566.18 2149.74,567.60 2151.10,569.02 2152.47,570.44 2153.84,571.86 2155.21,573.27 2156.59,574.68 2157.97,576.09 2159.35,577.49 2160.74,578.88 2162.14,580.26 2163.55,581.64 2164.97,583.00 2166.39,584.35 2167.82,585.70 2169.27,587.02 2170.73,588.34 2172.19,589.64 2173.68,590.92 2175.17,592.19 2176.68,593.44 2178.20,594.66 2179.74,595.87 2181.30,597.06 2182.87,598.23 2184.46,599.37 2186.06,600.49 2187.69,601.58 2189.32,602.65 2190.98,603.69 2192.65,604.71 2194.33,605.69 2196.04,606.65 2197.75,607.57 2199.49,608.46 2201.24,609.32 2203.00,610.15 2204.78,610.94 2206.58,611.70 2208.39,612.42 2210.22,613.11 2212.06,613.77 2213.91,614.40 2215.77,615.00 2217.65,615.57 2219.53,616.12 2221.43,616.64 2223.33,617.14 2225.23,617.62 2227.15,618.08 2229.07,618.53 2230.99,618.95 2232.92,619.36 2234.85,619.76 2236.79,620.15 2238.72,620.52 2240.66,620.89 2242.59,621.25 2244.53,621.60 2246.46,621.95 2248.39,622.29 2250.32,622.63 2252.25,622.96 2254.17,623.29 2256.10,623.61 2258.03,623.93 2259.96,624.25 2261.90,624.55 2263.83,624.86 2265.77,625.15 2267.70,625.44 2269.64,625.72 2271.58,626.00 2273.52,626.27 2275.47,626.53 2277.41,626.78 2279.35,627.03 2281.30,627.27 2283.25,627.50 2285.19,627.72 2287.14,627.94 2289.09,628.14 2291.04,628.34 2292.99,628.52 2294.94,628.70 2296.90,628.87 2298.85,629.03 2300.81,629.18 2302.76,629.32 2304.72,629.45 2306.67,629.58 2308.63,629.69 2310.59,629.80 2312.54,629.90 2314.50,629.99 2316.46,630.07 2318.42,630.15 2320.38,630.22 2322.34,630.28 2324.30,630.34 2326.26,630.39 2328.22,630.43 2330.18,630.46 2332.14,630.49 2334.10,630.52 2336.06,630.54 2338.02,630.55 2339.98,630.56 2341.94,630.56 2343.90,630.56 2345.86,630.55 2347.82,630.54 2349.78,630.52 2351.74,630.50 2353.70,630.47" fill="none" stroke="#2a2eec" stroke-width="4.17" stroke-linecap="round" stroke-linejoin="round"/>
<polyline points="220.29,1274.27 224.22,1274.27 228.14,1274.27 232.06,1274.26 235.97,1274.26 239.88,1274.26 243.79,1274.25 247.69,1274.25 251.59,1274.24 255.48,1274.23 259.36,1274.22 263.25,1274.21 267.12,1274.20 271.00,1274.18 274.87,1274.17 278.73,1274.15 282.59,1274.14 286.44,1274.12 290.30,1274.10 294.14,1274.08 297.98,1274.06 301.82,1274.04 305.66,1274.02 309.49,1274.00 313.31,1273.97 317.13,1273.95 320.95,1273.93 324.76,1273.90 328.57,1273.87 332.37,1273.85 336.17,1273.82 339.97,1273.79 343.76,1273.76 347.55,1273.73 351.34,1273.70 355.12,1273.67 358.89,1273.64 362.66,1273.61 366.43,1273.58 370.20,1273.54 373.96,1273.51 377.71,1273.48 381.47,1273.44 385.21,1273.41 388.96,1273.37 392.70,1273.34 396.44,1273.30 400.17,1273.27 403.90,1273.23 407.63,1273.20 411.35,1273.16 415.06,1273.12 418.76,1273.09 422.46,1273.05 426.15,1273.01 429.84,1272.97 433.51,1272.93 437.17,1272.89 440.82,1272.85 444.46,1272.81 448.09,1272.76 451.71,1272.72 455.31,1272.68 458.90,1272.63 462.47,1272.58 466.03,1272.54 469.57,1272.49 473.09,1272.44 476.60,1272.39 480.09,1272.34 483.56,1272.28 487.01,1272.23 490.44,1272.17 493.85,1272.12 497.24,1272.06 500.61,1272.00 503.95,1271.94 507.27,1271.88 510.57,1271.81 513.84,1271.75 517.08,1271.68 520.29,1271.62 523.48,1271.55 526.64,1271.48 529.77,1271.41 532.87,1271.34 535.94,1271.26 538.97,1271.19 541.98,1271.12 544.95,1271.04 547.88,1270.96 550.78,1270.88 553.64,1270.80 556.47,1270.72 559.26,1270.64 562.01,1270.56 564.72,1270.47 567.40,1270.39 570.03,1270.30 572.64,1270.21 575.21,1270.13 577.74,1270.04 580.25,1269.95 582.72,1269.86 585.17,1269.77 587.59,1269.67 589.98,1269.58 592.35,1269.49 594.70,1269.39 597.02,1269.30 599.32,1269.20 601.61,1269.11 603.87,1269.01 606.12,1268.91 608.35,1268.82 610.57,1268.72 612.77,1268.62 614.96,1268.52 617.15,1268.43 619.32,1268.33 621.48,1268.23 623.64,1268.13 625.79,1268.03 627.94,1267.93 630.08,1267.83 632.23,1267.74 634.37,1267.64 636.51,1267.54 638.66,1267.44 640.80,1267.34 642.95,1267.24 645.09,1267.14 647.23,1267.05 649.37,1266.95 651.50,1266.85 653.64,1266.75 655.77,1266.65 657.89,1266.55 660.02,1266.45 662.14,1266.36 664.25,1266.26 666.36,1266.16 668.46,1266.06 670.56,1265.96 672.65,1265.86 674.74,1265.76 676.82,1265.66 678.89,1265.56 680.95,1265.46 683.01,1265.37 685.06,1265.27 687.09,1265.16 689.12,1265.06 691.14,1264.96 693.15,1264.86 695.16,1264.76 697.15,1264.66 699.14,1264.56 701.12,1264.46 703.09,1264.36 705.07,1264.26 707.03,1264.15 709.00,1264.05 710.95,1263.95 712.91,1263.85 714.87,1263.75 716.82,1263.64 718.78,1263.54 720.73,1263.44 722.69,1263.34 724.65,1263.24 726.61,1263.13 728.57,1263.03 730.54,1262.93 732.51,1262.83 734.48,1262.73 736.46,1262.62 738.45,1262.52 740.45,1262.42 742.45,1262.32 744.46,1262.22 746.48,1262.12 748.51,1262.02 750.55,1261.92 752.60,1261.82 754.66,1261.72 756.73,1261.62 758.81,1261.52 760.90,1261.42 763.00,1261.32 765.11,1261.22 767.23,1261.12 769.36,1261.02 771.50,1260.93 773.65,1260.83 775.81,1260.73 777.98,1260.63 780.15,1260.53 782.33,1260.44 784.53,1260.34 786.73,1260.24 788.94,1260.15 791.15,1260.05 793.38,1259.95 795.61,1259.86 797.85,1259.76 800.10,1259.66 802.36,1259.57 804.62,1259.47 806.89,1259.38 809.17,1259.28 811.45,1259.18 813.74,1259.09 816.04,1258.99 818.34,1258.90 820.65,1258.80 822.96,1258.71 825.27,1258.61 827.59,1258.52 829.92,1258.42 832.24,1258.33 834.57,1258.24 836.91,1258.14 839.24,1258.05 841.58,1257.95 843.92,1257.86 846.26,1257.76 848.60,1257.67 850.94,1257.58 853.29,1257.48 855.64,1257.39 858.00,1257.30 860.36,1257.20 862.72,1257.11 865.10,1257.02 867.48,1256.92 869.88,1256.83 872.28,1256.74 874.69,1256.65 877.11,1256.55 879.54,1256.46 881.97,1256.37 884.40,1256.28 886.84,1256.19 889.27,1256.09 891.70,1256.00 894.13,1255.91 896.56,1255.82 898.97,1255.73 901.38,1255.63 903.78,1255.54 906.17,1255.45 908.54,1255.35 910.90,1255.26 913.25,1255.17 915.57,1255.07 917.88,1254.98 920.17,1254.88 922.43,1254.79 924.67,1254.69 926.89,1254.60 929.07,1254.50 931.23,1254.40 933.37,1254.30 935.48,1254.20 937.56,1254.10 939.63,1254.00 941.68,1253.90 943.71,1253.80 945.73,1253.70 947.74,1253.60 949.73,1253.50 951.72,1253.40 953.70,1253.30 955.67,1253.20 957.63,1253.09 959.59,1252.99 961.53,1252.89 963.47,1252.79 965.40,1252.69 967.33,1252.58 969.24,1252.48 971.15,1252.38 973.06,1252.28 974.96,1252.17 976.85,1252.07 978.73,1251.97 980.61,1251.86 982.49,1251.76 984.36,1251.66 986.22,1251.55 988.08,1251.45 989.94,1251.35 991.79,1251.24 993.64,1251.14 995.49,1251.04 997.33,1250.93 999.17,1250.83 1001.00,1250.72 1002.84,1250.62 1004.67,1250.52 1006.50,1250.41 1008.33,1250.31 1010.15,1250.20 1011.98,1250.10 1013.80,1250.00 1015.62,1249.89 1017.44,1249.79 1019.26,1249.68 1021.09,1249.58 1022.91,1249.47 1024.73,1249.37 1026.55,1249.27 1028.38,1249.16 1030.20,1249.06 1032.03,1248.95 1033.85,1248.85 1035.68,1248.75 1037.51,1248.64 1039.35,1248.54 1041.18,1248.43 1043.02,1248.33 1044.87,1248.23 1046.71,1248.12 1048.56,1248.02 1050.41,1247.92 1052.27,1247.81 1054.13,1247.71 1056.00,1247.61 1057.87,1247.50 1059.74,1247.40 1061.62,1247.30 1063.51,1247.19 1065.40,1247.09 1067.30,1246.99 1069.21,1246.88 1071.13,1246.78 1073.06,1246.68 1075.01,1246.58 1076.97,1246.48 1078.94,1246.37 1080.93,1246.27 1082.93,1246.17 1084.96,1246.07 1087.00,1245.97 1089.07,1245.87 1091.15,1245.77 1093.26,1245.67 1095.40,1245.58 1097.56,1245.48 1099.75,1245.38 1101.96,1245.29 1104.21,1245.19 1106.48,1245.10 1108.79,1245.00 1111.12,1244.91 1113.50,1244.82 1115.90,1244.72 1118.35,1244.63 1120.83,1244.54 1123.35,1244.45 1125.91,1244.36 1128.51,1244.28 1131.15,1244.19 1133.84,1244.10 1136.57,1244.02 1139.35,1243.94 1142.17,1243.85 1145.04,1243.77 1147.97,1243.69 1150.94,1243.61 1153.96,1243.53 1157.04,1243.46 1160.16,1243.38 1163.34,1243.31 1166.56,1243.24 1169.83,1243.17 1173.14,1243.10 1176.51,1243.04 1179.91,1242.98 1183.36,1242.92 1186.86,1242.86 1190.39,1242.81 1193.96,1242.77 1197.58,1242.73 1201.23,1242.69 1204.92,1242.65 1208.64,1242.63 1212.39,1242.60 1216.16,1242.58 1219.96,1242.57 1223.77,1242.55 1227.60,1242.55 1231.43,1242.54 1235.27,1242.54 1239.11,1242.55 1242.96,1242.56 1246.79,1242.57 1250.62,1242.59 1254.43,1242.61 1258.22,1242.63 1261.99,1242.66 1265.74,1242.69 1269.46,1242.72 1273.15,1242.76 1276.80,1242.80 1280.41,1242.84 1283.98,1242.89 1287.50,1242.94 1290.96,1243.00 1294.37,1243.05 1297.73,1243.11 1301.02,1243.18 1304.24,1243.24 1307.40,1243.31 1310.50,1243.38 1313.54,1243.45 1316.52,1243.53 1319.45,1243.61 1322.32,1243.69 1325.15,1243.77 1327.94,1243.85 1330.68,1243.94 1333.38,1244.02 1336.04,1244.11 1338.66,1244.20 1341.26,1244.29 1343.82,1244.38 1346.35,1244.47 1348.87,1244.57 1351.35,1244.66 1353.82,1244.75 1356.27,1244.85 1358.71,1244.94 1361.14,1245.04 1363.55,1245.13 1365.96,1245.22 1368.36,1245.32 1370.76,1245.41 1373.15,1245.50 1375.53,1245.60 1377.91,1245.69 1380.28,1245.78 1382.65,1245.88 1385.02,1245.97 1387.38,1246.06 1389.73,1246.16 1392.08,1246.25 1394.43,1246.34 1396.77,1246.43 1399.12,1246.53 1401.45,1246.62 1403.79,1246.71 1406.12,1246.81 1408.46,1246.90 1410.79,1246.99 1413.12,1247.09 1415.44,1247.18 1417.77,1247.27 1420.10,1247.37 1422.42,1247.46 1424.73,1247.56 1427.05,1247.65 1429.35,1247.75 1431.65,1247.84 1433.94,1247.94 1436.23,1248.03 1438.50,1248.13 1440.76,1248.23 1443.01,1248.32 1445.25,1248.42 1447.48,1248.52 1449.69,1248.62 1451.88,1248.71 1454.06,1248.81 1456.22,1248.91 1458.37,1249.01 1460.49,1249.11 1462.60,1249.21 1464.68,1249.31 1466.74,1249.41 1468.79,1249.51 1470.81,1249.61 1472.81,1249.71 1474.80,1249.81 1476.77,1249.91 1478.72,1250.01 1480.66,1250.12 1482.58,1250.22 1484.50,1250.32 1486.40,1250.42 1488.28,1250.53 1490.16,1250.63 1492.03,1250.73 1493.89,1250.84 1495.75,1250.94 1497.59,1251.04 1499.44,1251.15 1501.27,1251.25 1503.11,1251.35 1504.94,1251.46 1506.77,1251.56 1508.60,1251.67 1510.43,1251.77 1512.26,1251.87 1514.09,1251.98 1515.93,1252.08 1517.77,1252.18 1519.61,1252.29 1521.46,1252.39 1523.32,1252.49 1525.19,1252.60 1527.06,1252.70 1528.95,1252.80 1530.84,1252.91 1532.75,1253.01 1534.66,1253.11 1536.58,1253.21 1538.52,1253.32 1540.46,1253.42 1542.41,1253.52 1544.36,1253.62 1546.33,1253.72 1548.30,1253.83 1550.27,1253.93 1552.25,1254.03 1554.24,1254.13 1556.24,1254.23 1558.23,1254.33 1560.24,1254.43 1562.24,1254.54 1564.25,1254.64 1566.27,1254.74 1568.28,1254.84 1570.30,1254.94 1572.32,1255.04 1574.35,1255.14 1576.37,1255.24 1578.40,1255.34 1580.42,1255.44 1582.45,1255.54 1584.47,1255.64 1586.50,1255.75 1588.52,1255.85 1590.54,1255.95 1592.57,1256.05 1594.58,1256.15 1596.60,1256.25 1598.61,1256.35 1600.63,1256.45 1602.64,1256.55 1604.64,1256.65 1606.65,1256.75 1608.66,1256.85 1610.66,1256.95 1612.67,1257.06 1614.68,1257.16 1616.68,1257.26 1618.69,1257.36 1620.70,1257.46 1622.70,1257.56 1624.71,1257.66 1626.73,1257.76 1628.74,1257.86 1630.76,1257.96 1632.77,1258.06 1634.80,1258.16 1636.82,1258.26 1638.85,1258.36 1640.88,1258.46 1642.92,1258.56 1644.96,1258.66 1647.00,1258.77 1649.05,1258.87 1651.10,1258.97 1653.16,1259.06 1655.23,1259.16 1657.30,1259.26 1659.38,1259.36 1661.46,1259.46 1663.55,1259.56 1665.65,1259.66 1667.75,1259.76 1669.86,1259.86 1671.97,1259.96 1674.09,1260.06 1676.22,1260.16 1678.35,1260.26 1680.48,1260.35 1682.62,1260.45 1684.76,1260.55 1686.90,1260.65 1689.05,1260.75 1691.21,1260.85 1693.36,1260.95 1695.52,1261.04 1697.68,1261.14 1699.84,1261.24 1702.01,1261.34 1704.17,1261.44 1706.34,1261.53 1708.51,1261.63 1710.68,1261.73 1712.86,1261.83 1715.03,1261.93 1717.20,1262.02 1719.38,1262.12 1721.55,1262.22 1723.72,1262.32 1725.90,1262.42 1728.07,1262.51 1730.24,1262.61 1732.41,1262.71 1734.58,1262.81 1736.75,1262.91 1738.91,1263.00 1741.07,1263.10 1743.23,1263.20 1745.39,1263.30 1747.55,1263.40 1749.70,1263.50 1751.85,1263.59 1753.99,1263.69 1756.13,1263.79 1758.27,1263.89 1760.40,1263.99 1762.53,1264.09 1764.66,1264.18 1766.78,1264.28 1768.89,1264.38 1771.00,1264.48 1773.10,1264.58 1775.20,1264.68 1777.29,1264.78 1779.37,1264.88 1781.45,1264.97 1783.52,1265.07 1785.58,1265.17 1787.64,1265.27 1789.69,1265.37 1791.74,1265.47 1793.78,1265.57 1795.82,1265.67 1797.86,1265.77 1799.90,1265.87 1801.94,1265.97 1803.98,1266.07 1806.02,1266.17 1808.06,1266.27 1810.10,1266.37 1812.15,1266.47 1814.20,1266.57 1816.25,1266.67 1818.32,1266.77 1820.38,1266.87 1822.46,1266.97 1824.54,1267.07 1826.63,1267.17 1828.73,1267.27 1830.84,1267.36 1832.97,1267.46 1835.10,1267.56 1837.25,1267.66 1839.41,1267.76 1841.58,1267.86 1843.77,1267.96 1845.97,1268.06 1848.20,1268.15 1850.44,1268.25 1852.70,1268.35 1854.97,1268.45 1857.27,1268.54 1859.59,1268.64 1861.93,1268.73 1864.30,1268.83 1866.69,1268.92 1869.10,1269.01 1871.54,1269.11 1874.01,1269.20 1876.51,1269.29 1879.03,1269.38 1881.58,1269.47 1884.16,1269.56 1886.78,1269.64 1889.42,1269.73 1892.10,1269.81 1894.82,1269.90 1897.56,1269.98 1900.34,1270.06 1903.15,1270.14 1905.99,1270.22 1908.86,1270.30 1911.77,1270.38 1914.70,1270.45 1917.66,1270.53 1920.64,1270.60 1923.66,1270.68 1926.70,1270.75 1929.77,1270.82 1932.86,1270.89 1935.98,1270.96 1939.12,1271.03 1942.28,1271.10 1945.47,1271.16 1948.68,1271.23 1951.91,1271.30 1955.16,1271.36 1958.43,1271.42 1961.72,1271.49 1965.03,1271.55 1968.35,1271.61 1971.70,1271.67 1975.06,1271.73 1978.44,1271.79 1981.83,1271.85 1985.23,1271.91 1988.65,1271.96 1992.09,1272.02 1995.54,1272.08 1998.99,1272.13 2002.46,1272.19 2005.95,1272.24 2009.44,1272.30 2012.94,1272.35 2016.45,1272.40 2019.96,1272.45 2023.49,1272.50 2027.02,1272.56 2030.56,1272.61 2034.10,1272.66 2037.66,1272.71 2041.22,1272.76 2044.78,1272.80 2048.36,1272.85 2051.94,1272.90 2055.53,1272.95 2059.12,1272.99 2062.72,1273.04 2066.33,1273.08 2069.95,1273.13 2073.58,1273.17 2077.21,1273.21 2080.85,1273.26 2084.50,1273.30 2088.15,1273.34 2091.81,1273.38 2095.48,1273.42 2099.16,1273.46 2102.85,1273.50 2106.54,1273.53 2110.24,1273.57 2113.95,1273.61 2117.66,1273.64 2121.39,1273.68 2125.12,1273.71 2128.86,1273.74 2132.61,1273.78 2136.37,1273.81 2140.13,1273.84 2143.90,1273.87 2147.68,1273.89 2151.47,1273.92 2155.27,1273.95 2159.07,1273.97 2162.88,1274.00 2166.70,1274.02 2170.53,1274.05 2174.36,1274.07 2178.20,1274.09 2182.05,1274.11 2185.90,1274.13 2189.76,1274.14 2193.62,1274.16 2197.49,1274.17 2201.37,1274.19 2205.24,1274.20 2209.13,1274.21 2213.01,1274.22 2216.91,1274.23 2220.80,1274.24 2224.70,1274.24 2228.60,1274.25 2232.50,1274.25 2236.41,1274.26 2240.32,1274.26 2244.23,1274.26 2248.14,1274.26 2252.05,1274.26 2255.96,1274.27 2259.87,1274.27 2263.78,1274.27 2267.69,1274.27 2271.60,1274.27 2275.51,1274.26 2279.41,1274.27 2283.32,1274.27 2287.22,1274.27 2291.12,1274.27 2295.01,1274.27 2298.90,1274.27" fill="none" stroke="#fa7c17" stroke-width="4.17" stroke-linecap="round" stroke-linejoin="round"/>
<polyline points="1285.94,1274.40 1286.28,1274.40 1286.63,1274.41 1286.98,1274.41 1287.33,1274.41 1287.67,1274.41 1288.02,1274.40 1288.37,1274.40 1288.72,1274.39 1289.07,1274.37 1289.41,1274.36 1289.76,1274.33 1290.11,1274.31 1290.46,1274.28 1290.80,1274.25 1291.15,1274.21 1291.50,1274.17 1291.85,1274.12 1292.20,1274.07 1292.54,1274.01 1292.89,1273.95 1293.24,1273.88 1293.59,1273.80 1293.93,1273.72 1294.28,1273.63 1294.63,1273.54 1294.97,1273.43 1295.32,1273.33 1295.67,1273.21 1296.02,1273.09 1296.36,1272.95 1296.71,1272.82 1297.05,1272.67 1297.40,1272.52 1297.75,1272.36 1298.09,1272.19 1298.44,1272.02 1298.78,1271.84 1299.13,1271.66 1299.48,1271.47 1299.82,1271.27 1300.17,1271.08 1300.51,1270.88 1300.86,1270.67 1301.20,1270.46 1301.55,1270.25 1301.89,1270.03 1302.24,1269.81 1302.59,1269.59 1302.93,1269.37 1303.28,1269.15 1303.62,1268.92 1303.97,1268.70 1304.32,1268.47 1304.66,1268.24 1305.01,1268.01 1305.35,1267.79 1305.70,1267.56 1306.05,1267.33 1306.39,1267.10 1306.74,1266.87 1307.09,1266.63 1307.43,1266.39 1307.78,1266.14 1308.13,1265.89 1308.47,1265.62 1308.82,1265.34 1309.16,1265.05 1309.50,1264.74 1309.85,1264.42 1310.19,1264.08 1310.53,1263.72 1310.87,1263.34 1311.21,1262.94 1311.55,1262.52 1311.88,1262.07 1312.22,1261.60 1312.55,1261.10 1312.88,1260.57 1313.21,1260.01 1313.54,1259.42 1313.87,1258.80 1314.19,1258.14 1314.51,1257.46 1314.83,1256.74 1315.15,1256.00 1315.47,1255.23 1315.79,1254.43 1316.10,1253.62 1316.42,1252.77 1316.73,1251.91 1317.04,1251.02 1317.35,1250.12 1317.66,1249.20 1317.97,1248.26 1318.27,1247.30 1318.58,1246.33 1318.88,1245.35 1319.18,1244.35 1319.49,1243.34 1319.79,1242.33 1320.09,1241.30 1320.39,1240.27 1320.68,1239.23 1320.98,1238.19 1321.28,1237.14 1321.57,1236.08 1321.87,1235.02 1322.16,1233.95 1322.45,1232.87 1322.75,1231.78 1323.03,1230.68 1323.32,1229.57 1323.61,1228.45 1323.89,1227.31 1324.17,1226.17 1324.45,1225.01 1324.73,1223.83 1325.00,1222.64 1325.28,1221.44 1325.54,1220.22 1325.81,1218.99 1326.08,1217.73 1326.34,1216.46 1326.60,1215.17 1326.85,1213.86 1327.10,1212.53 1327.35,1211.19 1327.60,1209.82 1327.84,1208.43 1328.08,1207.03 1328.31,1205.61 1328.55,1204.18 1328.78,1202.72 1329.01,1201.26 1329.23,1199.78 1329.46,1198.28 1329.68,1196.77 1329.90,1195.25 1330.11,1193.72 1330.33,1192.17 1330.54,1190.61 1330.75,1189.05 1330.96,1187.47 1331.17,1185.88 1331.38,1184.29 1331.58,1182.69 1331.78,1181.08 1331.99,1179.46 1332.19,1177.84 1332.39,1176.21 1332.58,1174.57 1332.78,1172.94 1332.98,1171.29 1333.17,1169.65 1333.37,1168.00 1333.56,1166.35 1333.76,1164.70 1333.95,1163.05 1334.14,1161.40 1334.34,1159.74 1334.53,1158.09 1334.72,1156.44 1334.92,1154.79 1335.11,1153.15 1335.30,1151.51 1335.49,1149.87 1335.69,1148.24 1335.88,1146.61 1336.08,1144.99 1336.27,1143.37 1336.47,1141.75 1336.66,1140.14 1336.86,1138.54 1337.06,1136.94 1337.26,1135.34 1337.45,1133.74 1337.65,1132.15 1337.85,1130.57 1338.06,1128.98 1338.26,1127.41 1338.46,1125.83 1338.66,1124.25 1338.87,1122.68 1339.07,1121.12 1339.28,1119.55 1339.49,1117.99 1339.70,1116.43 1339.91,1114.87 1340.12,1113.31 1340.33,1111.76 1340.54,1110.20 1340.76,1108.65 1340.97,1107.10 1341.19,1105.55 1341.41,1104.01 1341.63,1102.46 1341.85,1100.91 1342.06,1099.35 1342.28,1097.79 1342.49,1096.22 1342.70,1094.64 1342.91,1093.04 1343.11,1091.44 1343.31,1089.81 1343.50,1088.17 1343.69,1086.52 1343.87,1084.85 1344.05,1083.17 1344.22,1081.48 1344.39,1079.77 1344.56,1078.05 1344.72,1076.32 1344.88,1074.58 1345.03,1072.83 1345.19,1071.07 1345.33,1069.31 1345.48,1067.53 1345.62,1065.74 1345.77,1063.95 1345.90,1062.15 1346.04,1060.35 1346.18,1058.54 1346.31,1056.73 1346.44,1054.91 1346.57,1053.09 1346.70,1051.26 1346.83,1049.43 1346.96,1047.61 1347.09,1045.77 1347.21,1043.94 1347.34,1042.11 1347.47,1040.28 1347.59,1038.45 1347.72,1036.62 1347.85,1034.79 1347.97,1032.95 1348.10,1031.12 1348.23,1029.29 1348.35,1027.46 1348.48,1025.63 1348.60,1023.80 1348.73,1021.97 1348.86,1020.13 1348.98,1018.30 1349.11,1016.47 1349.23,1014.64 1349.36,1012.81 1349.48,1010.98 1349.61,1009.15 1349.74,1007.32 1349.86,1005.49 1349.99,1003.66 1350.11,1001.83 1350.24,1000.00 1350.37,998.17 1350.49,996.34 1350.62,994.51 1350.74,992.68 1350.87,990.85 1351.00,989.02 1351.12,987.20 1351.25,985.37 1351.37,983.54 1351.50,981.71 1351.63,979.88 1351.75,978.06 1351.88,976.23 1352.01,974.40 1352.13,972.58 1352.26,970.75 1352.39,968.93 1352.52,967.10 1352.64,965.27 1352.77,963.45 1352.90,961.63 1353.03,959.80 1353.16,957.98 1353.28,956.15 1353.41,954.33 1353.54,952.51 1353.67,950.69 1353.80,948.86 1353.93,947.04 1354.06,945.22 1354.19,943.40 1354.32,941.58 1354.45,939.76 1354.58,937.94 1354.71,936.12 1354.84,934.30 1354.97,932.49 1355.11,930.67 1355.24,928.85 1355.37,927.03 1355.50,925.22 1355.64,923.40 1355.77,921.59 1355.90,919.77 1356.04,917.96 1356.17,916.15 1356.30,914.33 1356.44,912.52 1356.57,910.71 1356.71,908.90 1356.84,907.08 1356.98,905.27 1357.11,903.46 1357.25,901.65 1357.39,899.85 1357.52,898.04 1357.66,896.23 1357.80,894.42 1357.93,892.61 1358.07,890.81 1358.21,889.00 1358.35,887.20 1358.48,885.39 1358.62,883.59 1358.76,881.78 1358.90,879.98 1359.04,878.17 1359.18,876.37 1359.31,874.57 1359.45,872.77 1359.59,870.97 1359.73,869.17 1359.87,867.37 1360.01,865.57 1360.15,863.77 1360.29,861.97 1360.43,860.17 1360.57,858.37 1360.71,856.58 1360.85,854.78 1360.99,852.98 1361.13,851.19 1361.27,849.39 1361.41,847.60 1361.55,845.81 1361.69,844.01 1361.84,842.22 1361.98,840.43 1362.12,838.64 1362.26,836.84 1362.40,835.05 1362.54,833.26 1362.68,831.47 1362.82,829.68 1362.96,827.90 1363.11,826.11 1363.25,824.32 1363.39,822.53 1363.53,820.75 1363.67,818.96 1363.81,817.17 1363.95,815.39 1364.10,813.61 1364.24,811.83 1364.38,810.05 1364.53,808.28 1364.67,806.51 1364.82,804.74 1364.97,802.98 1365.12,801.22 1365.28,799.47 1365.43,797.73 1365.59,795.99 1365.75,794.26 1365.92,792.54 1366.09,790.82 1366.26,789.12 1366.43,787.42 1366.61,785.74 1366.80,784.06 1366.98,782.40 1367.18,780.74 1367.37,779.10 1367.57,777.47 1367.78,775.85 1367.99,774.25 1368.21,772.67 1368.43,771.11 1368.66,769.57 1368.89,768.07 1369.13,766.60 1369.38,765.16 1369.63,763.76 1369.88,762.40 1370.15,761.09 1370.42,759.83 1370.69,758.62 1370.97,757.47 1371.26,756.38 1371.55,755.35 1371.85,754.39 1372.16,753.50 1372.48,752.67 1372.80,751.93 1373.12,751.26 1373.45,750.68 1373.78,750.18 1374.12,749.76 1374.46,749.43 1374.80,749.20 1375.14,749.06 1375.48,749.01 1375.82,749.07 1376.16,749.22 1376.50,749.48 1376.83,749.85 1377.17,750.33 1377.50,750.90 1377.82,751.57 1378.14,752.32 1378.46,753.16 1378.77,754.07 1379.07,755.05 1379.37,756.10 1379.66,757.21 1379.94,758.38 1380.22,759.59 1380.48,760.87 1380.75,762.19 1381.00,763.55 1381.25,764.96 1381.49,766.41 1381.72,767.90 1381.95,769.42 1382.17,770.97 1382.38,772.55 1382.59,774.16 1382.79,775.79 1382.98,777.44 1383.17,779.11 1383.35,780.79 1383.52,782.49 1383.69,784.20 1383.85,785.93 1384.01,787.67 1384.16,789.42 1384.31,791.18 1384.45,792.95 1384.60,794.73 1384.74,796.51 1384.87,798.31 1385.01,800.10 1385.14,801.91 1385.27,803.72 1385.40,805.53 1385.53,807.34 1385.66,809.15 1385.80,810.97 1385.93,812.78 1386.06,814.60 1386.19,816.41 1386.32,818.23 1386.46,820.04 1386.59,821.86 1386.72,823.68 1386.85,825.50 1386.98,827.32 1387.11,829.14 1387.24,830.97 1387.37,832.80 1387.50,834.62 1387.62,836.45 1387.75,838.29 1387.88,840.12 1388.00,841.95 1388.12,843.79 1388.25,845.63 1388.37,847.47 1388.49,849.31 1388.61,851.15 1388.73,852.99 1388.86,854.83 1388.98,856.68 1389.10,858.52 1389.21,860.37 1389.33,862.21 1389.45,864.06 1389.57,865.91 1389.69,867.75 1389.81,869.60 1389.93,871.45 1390.04,873.30 1390.16,875.15 1390.28,877.00 1390.40,878.84 1390.52,880.69 1390.63,882.54 1390.75,884.39 1390.87,886.23 1390.99,888.08 1391.11,889.93 1391.22,891.77 1391.34,893.62 1391.46,895.46 1391.58,897.31 1391.70,899.15 1391.82,900.99 1391.94,902.83 1392.06,904.67 1392.19,906.51 1392.31,908.35 1392.43,910.18 1392.55,912.02 1392.68,913.85 1392.80,915.68 1392.93,917.51 1393.05,919.34 1393.18,921.17 1393.31,922.99 1393.44,924.82 1393.57,926.64 1393.70,928.46 1393.83,930.27 1393.96,932.09 1394.09,933.90 1394.23,935.71 1394.36,937.52 1394.50,939.32 1394.64,941.13 1394.77,942.93 1394.91,944.73 1395.05,946.53 1395.19,948.33 1395.33,950.12 1395.47,951.92 1395.61,953.71 1395.76,955.50 1395.90,957.29 1396.04,959.08 1396.19,960.87 1396.33,962.66 1396.47,964.45 1396.62,966.23 1396.76,968.02 1396.91,969.81 1397.06,971.59 1397.20,973.38 1397.35,975.16 1397.49,976.94 1397.64,978.73 1397.79,980.51 1397.94,982.29 1398.08,984.07 1398.23,985.85 1398.38,987.62 1398.53,989.39 1398.68,991.17 1398.83,992.93 1398.99,994.70 1399.14,996.47 1399.29,998.23 1399.45,999.98 1399.61,1001.74 1399.76,1003.49 1399.92,1005.24 1400.08,1006.98 1400.24,1008.72 1400.40,1010.46 1400.57,1012.19 1400.73,1013.92 1400.90,1015.64 1401.07,1017.36 1401.24,1019.07 1401.41,1020.78 1401.58,1022.48 1401.75,1024.18 1401.93,1025.88 1402.10,1027.57 1402.28,1029.26 1402.46,1030.95 1402.64,1032.63 1402.82,1034.31 1403.00,1035.99 1403.18,1037.67 1403.36,1039.34 1403.54,1041.02 1403.72,1042.69 1403.90,1044.37 1404.08,1046.04 1404.27,1047.71 1404.45,1049.38 1404.63,1051.06 1404.81,1052.73 1404.99,1054.41 1405.17,1056.08 1405.35,1057.76 1405.53,1059.44 1405.71,1061.12 1405.89,1062.80 1406.07,1064.48 1406.25,1066.17 1406.42,1067.86 1406.60,1069.56 1406.77,1071.25 1406.95,1072.96 1407.12,1074.66 1407.29,1076.37 1407.46,1078.08 1407.63,1079.80 1407.79,1081.52 1407.96,1083.24 1408.13,1084.97 1408.29,1086.70 1408.45,1088.43 1408.62,1090.16 1408.78,1091.89 1408.95,1093.62 1409.11,1095.36 1409.27,1097.09 1409.44,1098.82 1409.60,1100.55 1409.76,1102.29 1409.93,1104.02 1410.09,1105.74 1410.26,1107.47 1410.42,1109.19 1410.59,1110.91 1410.76,1112.63 1410.93,1114.34 1411.10,1116.05 1411.27,1117.76 1411.44,1119.46 1411.62,1121.16 1411.80,1122.85 1411.97,1124.53 1412.15,1126.21 1412.34,1127.89 1412.52,1129.56 1412.70,1131.22 1412.89,1132.88 1413.08,1134.53 1413.27,1136.18 1413.46,1137.82 1413.65,1139.46 1413.84,1141.09 1414.04,1142.72 1414.23,1144.34 1414.43,1145.95 1414.63,1147.56 1414.83,1149.16 1415.03,1150.76 1415.23,1152.36 1415.44,1153.94 1415.64,1155.52 1415.85,1157.10 1416.06,1158.67 1416.27,1160.23 1416.48,1161.79 1416.69,1163.35 1416.90,1164.89 1417.12,1166.44 1417.33,1167.97 1417.55,1169.50 1417.77,1171.03 1417.98,1172.54 1418.21,1174.06 1418.43,1175.56 1418.65,1177.06 1418.87,1178.55 1419.10,1180.03 1419.33,1181.51 1419.55,1182.98 1419.78,1184.44 1420.02,1185.89 1420.25,1187.34 1420.48,1188.78 1420.72,1190.21 1420.95,1191.64 1421.19,1193.06 1421.43,1194.48 1421.67,1195.90 1421.91,1197.31 1422.15,1198.73 1422.39,1200.14 1422.63,1201.55 1422.88,1202.96 1423.12,1204.37 1423.36,1205.79 1423.60,1207.20 1423.84,1208.63 1424.08,1210.05 1424.33,1211.47 1424.57,1212.90 1424.81,1214.32 1425.05,1215.74 1425.30,1217.15 1425.54,1218.57 1425.79,1219.98 1426.03,1221.38 1426.28,1222.77 1426.53,1224.16 1426.78,1225.54 1427.03,1226.90 1427.28,1228.26 1427.53,1229.60 1427.79,1230.93 1428.05,1232.25 1428.31,1233.55 1428.57,1234.84 1428.84,1236.11 1429.10,1237.36 1429.37,1238.59 1429.65,1239.80 1429.92,1240.99 1430.20,1242.16 1430.48,1243.31 1430.77,1244.43 1431.06,1245.52 1431.35,1246.59 1431.64,1247.64 1431.94,1248.65 1432.24,1249.64 1432.54,1250.60 1432.84,1251.52 1433.15,1252.42 1433.46,1253.28 1433.77,1254.11 1434.09,1254.90 1434.41,1255.66 1434.73,1256.38 1435.05,1257.07 1435.38,1257.73 1435.71,1258.36 1436.04,1258.97 1436.37,1259.54 1436.71,1260.09 1437.04,1260.61 1437.38,1261.11 1437.72,1261.60 1438.06,1262.06 1438.40,1262.50 1438.74,1262.93 1439.08,1263.34 1439.42,1263.74 1439.77,1264.12 1440.11,1264.50 1440.45,1264.87 1440.80,1265.23 1441.14,1265.58 1441.48,1265.93 1441.82,1266.27 1442.17,1266.61 1442.51,1266.94 1442.85,1267.27 1443.19,1267.60 1443.53,1267.92 1443.88,1268.23 1444.22,1268.54 1444.56,1268.84 1444.91,1269.14 1445.25,1269.43 1445.59,1269.71 1445.94,1269.99 1446.28,1270.26 1446.63,1270.52 1446.97,1270.77 1447.32,1271.02 1447.66,1271.26 1448.01,1271.49 1448.35,1271.71 1448.70,1271.93 1449.04,1272.13 1449.39,1272.33 1449.73,1272.52 1450.08,1272.70 1450.43,1272.86 1450.77,1273.02 1451.12,1273.17 1451.47,1273.31 1451.81,1273.45 1452.16,1273.57 1452.51,1273.69 1452.85,1273.79 1453.20,1273.89 1453.55,1273.99 1453.90,1274.07 1454.24,1274.15 1454.59,1274.22 1454.94,1274.28 1455.29,1274.33 1455.63,1274.38 1455.98,1274.42 1456.33,1274.46 1456.68,1274.49 1457.03,1274.51 1457.37,1274.53 1457.72,1274.55 1458.07,1274.55 1458.42,1274.56 1458.76,1274.55 1459.11,1274.54 1459.46,1274.53 1459.81,1274.52 1460.15,1274.50 1460.50,1274.47" fill="none" stroke="#2a2eec" stroke-width="4.17" stroke-linecap="round" stroke-linejoin="round"/>
<line x1="731.90" y1="659" x2="731.90" y2="79" stroke="#328c06" stroke-width="4.17" stroke-dasharray="15.417 6.667"/>
<line x1="2096.00" y1="659" x2="2096.00" y2="79" stroke="#328c06" stroke-width="4.17" stroke-dasharray="15.417 6.667"/>
<line x1="1414.75" y1="1302" x2="1414.75" y2="723" stroke="#328c06" stroke-width="4.17" stroke-dasharray="15.417 6.667"/>
<line x1="767.80" y1="131.10" x2="845.80" y2="131.10" stroke="#fa7c17" stroke-width="4.17" stroke-linecap="round"/>
<text transform="translate(876.55,145.30) scale(1.0454,1)" font-size="43.35" font-weight="normal">prior</text>
<line x1="767.80" y1="187.50" x2="845.80" y2="187.50" stroke="#328c06" stroke-width="4.17" stroke-dasharray="15.417 6.667"/>
<text transform="translate(877.07,202.60) scale(0.9502,1)" font-size="43.35" font-weight="normal">True</text>
<text transform="translate(973.02,202.60) scale(0.9764,1)" font-size="43.35" font-weight="normal">Mean:</text>
<text transform="translate(1104.74,202.60) scale(0.9903,1)" font-size="43.35" font-weight="normal">1.0</text>
<line x1="1355.00" y1="131.10" x2="1433.00" y2="131.10" stroke="#2a2eec" stroke-width="4.17" stroke-linecap="round"/>
<text transform="translate(1463.50,145.30) scale(1.0294,1)" font-size="43.35" font-weight="normal">posterior</text>
<line x1="1355.00" y1="187.50" x2="1433.00" y2="187.50" stroke="#328c06" stroke-width="4.17" stroke-dasharray="15.417 6.667"/>
<text transform="translate(1463.97,202.60) scale(0.9502,1)" font-size="43.35" font-weight="normal">True</text>
<text transform="translate(1559.92,202.60) scale(0.9764,1)" font-size="43.35" font-weight="normal">Mean:</text>
<text transform="translate(1691.64,202.60) scale(0.9903,1)" font-size="43.35" font-weight="normal">1.0</text>
<line x1="1971.00" y1="774.00" x2="2049.00" y2="774.00" stroke="#fa7c17" stroke-width="4.17" stroke-linecap="round"/>
<text transform="translate(2080.75,788.30) scale(1.0454,1)" font-size="43.35" font-weight="normal">prior</text>
<line x1="1971.00" y1="831.80" x2="2049.00" y2="831.80" stroke="#2a2eec" stroke-width="4.17" stroke-linecap="round"/>
<text transform="translate(2080.80,846.20) scale(1.0294,1)" font-size="43.35" font-weight="normal">posterior</text>
<line x1="1971.00" y1="888.60" x2="2049.00" y2="888.60" stroke="#328c06" stroke-width="4.17" stroke-dasharray="15.417 6.667"/>
<text transform="translate(2079.97,903.40) scale(0.9502,1)" font-size="43.35" font-weight="normal">True</text>
<text transform="translate(2175.92,903.40) scale(0.9764,1)" font-size="43.35" font-weight="normal">Mean:</text>
<text transform="translate(2307.64,903.40) scale(0.9903,1)" font-size="43.35" font-weight="normal">1.0</text>
<text transform="translate(106.41,698.20) scale(1.1448,1)" font-size="42.01" font-weight="normal">−6</text>
<text transform="translate(125.41,1342.00) scale(1.1448,1)" font-size="42.01" font-weight="normal">−6</text>
<text transform="translate(277.12,698.20) scale(1.1351,1)" font-size="42.01" font-weight="normal">−4</text>
<text transform="translate(485.78,1342.00) scale(1.1351,1)" font-size="42.01" font-weight="normal">−4</text>
<text transform="translate(448.85,698.20) scale(1.1199,1)" font-size="42.01" font-weight="normal">−2</text>
<text transform="translate(847.19,1342.00) scale(1.1199,1)" font-size="42.01" font-weight="normal">−2</text>
<text transform="translate(635.12,698.20) scale(0.9718,1)" font-size="42.01" font-weight="normal">0</text>
<text transform="translate(1223.12,1342.00) scale(0.9718,1)" font-size="42.01" font-weight="normal">0</text>
<text transform="translate(806.45,698.20) scale(0.9340,1)" font-size="42.01" font-weight="normal">2</text>
<text transform="translate(1584.11,1342.00) scale(0.9340,1)" font-size="42.01" font-weight="normal">2</text>
<text transform="translate(977.03,698.20) scale(0.9644,1)" font-size="42.01" font-weight="normal">4</text>
<text transform="translate(1944.36,1342.00) scale(0.9644,1)" font-size="42.01" font-weight="normal">4</text>
<text transform="translate(1147.21,698.20) scale(0.9984,1)" font-size="42.01" font-weight="normal">6</text>
<text transform="translate(2304.20,1342.00) scale(0.9984,1)" font-size="42.01" font-weight="normal">6</text>
<text transform="translate(21.60,646.70) scale(1.0308,1)" font-size="42.01" font-weight="normal">0.00</text>
<text transform="translate(22.39,515.95) scale(1.0224,1)" font-size="42.01" font-weight="normal">0.05</text>
<text transform="translate(21.60,385.20) scale(1.0308,1)" font-size="42.01" font-weight="normal">0.10</text>
<text transform="translate(22.39,254.45) scale(1.0224,1)" font-size="42.01" font-weight="normal">0.15</text>
<text transform="translate(21.60,123.70) scale(1.0308,1)" font-size="42.01" font-weight="normal">0.20</text>
<text transform="translate(1455.91,698.20) scale(1.0214,1)" font-size="42.01" font-weight="normal">0.4</text>
<text transform="translate(1659.30,698.20) scale(1.0278,1)" font-size="42.01" font-weight="normal">0.6</text>
<text transform="translate(1862.65,698.20) scale(1.0243,1)" font-size="42.01" font-weight="normal">0.8</text>
<text transform="translate(2065.23,698.20) scale(1.0178,1)" font-size="42.01" font-weight="normal">1.0</text>
<text transform="translate(2269.21,698.20) scale(1.0024,1)" font-size="42.01" font-weight="normal">1.2</text>
<text transform="translate(1249.03,646.70) scale(1.0222,1)" font-size="42.01" font-weight="normal">0.0</text>
<text transform="translate(44.93,1290.70) scale(1.0222,1)" font-size="42.01" font-weight="normal">0.0</text>
<text transform="translate(1249.82,563.70) scale(1.0101,1)" font-size="42.01" font-weight="normal">0.5</text>
<text transform="translate(45.72,1207.54) scale(1.0101,1)" font-size="42.01" font-weight="normal">0.5</text>
<text transform="translate(1249.27,480.70) scale(1.0178,1)" font-size="42.01" font-weight="normal">1.0</text>
<text transform="translate(45.17,1124.37) scale(1.0178,1)" font-size="42.01" font-weight="normal">1.0</text>
<text transform="translate(1250.09,397.70) scale(1.0054,1)" font-size="42.01" font-weight="normal">1.5</text>
<text transform="translate(45.99,1041.21) scale(1.0054,1)" font-size="42.01" font-weight="normal">1.5</text>
<text transform="translate(1248.88,314.70) scale(1.0247,1)" font-size="42.01" font-weight="normal">2.0</text>
<text transform="translate(44.78,958.04) scale(1.0247,1)" font-size="42.01" font-weight="normal">2.0</text>
<text transform="translate(1249.68,231.70) scale(1.0125,1)" font-size="42.01" font-weight="normal">2.5</text>
<text transform="translate(45.58,874.88) scale(1.0125,1)" font-size="42.01" font-weight="normal">2.5</text>
<text transform="translate(1249.53,148.70) scale(1.0132,1)" font-size="42.01" font-weight="normal">3.0</text>
<text transform="translate(45.43,791.71) scale(1.0132,1)" font-size="42.01" font-weight="normal">3.0</text>
<text transform="translate(652.06,54.60) scale(1.0771,1)" font-size="48.73" font-weight="bold">Prior</text>
<text transform="translate(789.93,54.60) scale(1.0177,1)" font-size="48.73" font-weight="bold">vs</text>
<text transform="translate(861.18,54.60) scale(1.0813,1)" font-size="48.73" font-weight="bold">Posterior</text>
<text transform="translate(1107.88,54.60) scale(1.0849,1)" font-size="48.73" font-weight="bold">Distributions</text>
<text transform="translate(1449.23,54.60) scale(1.1183,1)" font-size="48.73" font-weight="bold">for</text>
<text transform="translate(1536.66,54.60) scale(1.1362,1)" font-size="48.73" font-weight="bold">the</text>
<text transform="translate(1636.12,54.60) scale(1.0889,1)" font-size="48.73" font-weight="bold">Mean</text>
<text transform="translate(1227.25,1394.90) scale(1.0437,1)" font-size="44.74" font-weight="normal">mu</text>
</svg>
</body></html>
